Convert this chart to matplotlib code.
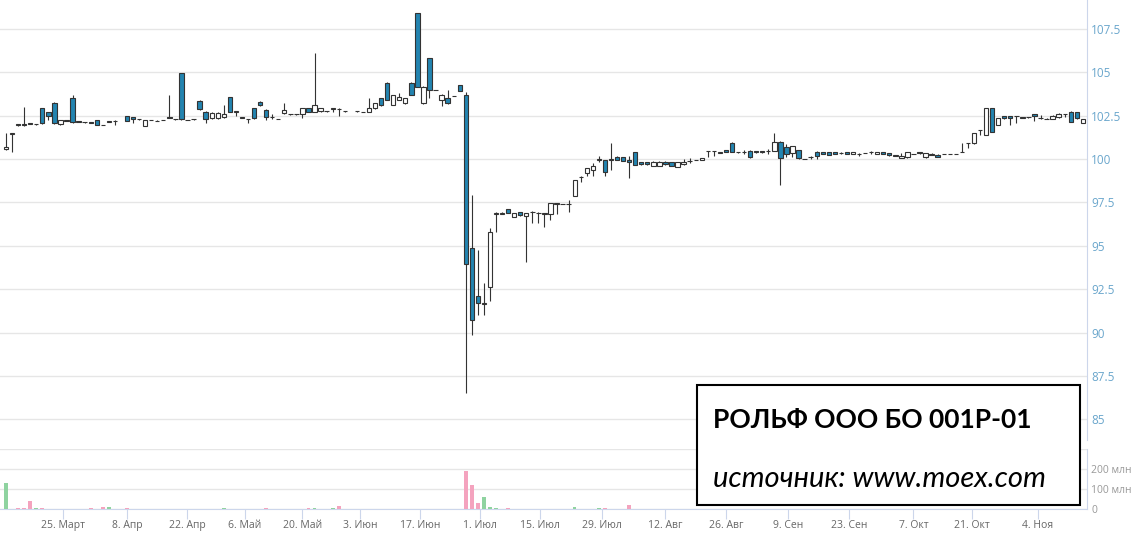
import matplotlib.pyplot as plt
from matplotlib.patches import Rectangle

# daily candles (open, high, low, close), mid March .. mid November 2019
opn = [100.55, 101.45, 102.00, 102.00, 102.08, 102.00, 102.92, 102.69, 103.24, 102.00,
       102.22, 103.50, 102.17, 102.14, 102.13, 102.25, 101.98, 102.13, 102.20, 102.48,
       102.42, 102.30, 101.90, 102.25, 102.20, 102.25, 102.42, 102.30, 104.94, 102.26,
       102.29, 103.36, 102.73, 102.34, 102.34, 102.40, 103.55, 102.72, 102.40, 102.30,
       102.92, 103.30, 102.82, 102.40, 102.30, 102.63, 102.58, 102.60, 102.59, 102.92,
       102.73, 102.75, 102.76, 102.90, 102.90, 102.76, 102.75, 102.71, 102.73, 102.92,
       103.50, 104.40, 103.11, 103.40, 103.21, 104.40, 108.40, 103.21, 105.80, 103.99,
       103.40, 103.50, 103.64, 104.26, 103.69, 94.86, 92.10, 91.66, 92.61, 96.85,
       96.85, 97.10, 96.68, 96.95, 96.70, 96.95, 96.90, 96.85, 96.83, 97.43,
       97.40, 97.40, 97.87, 98.97, 99.17, 99.35, 99.97, 99.94, 99.97, 100.13,
       100.10, 99.95, 100.38, 99.80, 99.80, 99.60, 99.60, 99.84, 99.80, 99.55,
       99.70, 99.89, 99.94, 99.96, 100.44, 100.44, 100.35, 100.50, 100.94, 100.39,
       100.40, 100.48, 100.45, 100.45, 100.45, 100.48, 101.00, 100.70, 100.36, 100.52,
       100.01, 100.10, 100.42, 100.40, 100.40, 100.38, 100.33, 100.38, 100.28, 100.30,
       100.35, 100.38, 100.28, 100.40, 100.35, 100.19, 100.05, 100.10, 100.30, 100.40,
       100.10, 100.30, 100.25, 100.30, 100.30, 100.30, 100.42, 100.90, 100.90, 101.67,
       101.38, 102.92, 101.96, 102.45, 102.45, 102.45, 102.40, 102.40, 102.60, 102.35,
       102.29, 102.30, 102.40, 102.60, 102.73, 102.70, 102.10]
high = [101.48, 101.52, 102.00, 103.00, 102.10, 102.03, 102.95, 102.72, 103.27, 102.27,
        102.24, 103.69, 102.18, 102.15, 102.14, 102.27, 101.98, 102.17, 102.22, 102.50,
        102.44, 102.31, 102.27, 102.26, 102.22, 102.26, 103.69, 102.31, 104.96, 102.27,
        102.31, 103.38, 102.75, 102.69, 102.69, 103.10, 103.59, 102.75, 102.42, 102.32,
        102.94, 103.32, 102.90, 102.60, 102.32, 103.20, 102.60, 102.62, 102.94, 102.94,
        106.09, 102.94, 102.77, 102.92, 102.92, 102.77, 102.77, 102.72, 103.50, 103.23,
        103.52, 104.42, 103.71, 103.80, 103.52, 104.42, 108.42, 104.19, 105.82, 104.00,
        103.75, 103.98, 103.65, 104.28, 103.88, 97.93, 94.76, 92.84, 96.00, 96.92,
        96.92, 97.12, 96.89, 96.97, 96.89, 96.98, 96.92, 96.87, 97.46, 97.46,
        97.42, 97.64, 98.81, 99.00, 99.48, 99.75, 100.20, 99.96, 100.90, 100.15,
        100.12, 100.20, 100.40, 99.82, 99.82, 99.86, 99.86, 99.86, 99.82, 99.82,
        100.00, 100.05, 99.96, 100.07, 100.46, 100.46, 100.41, 100.52, 100.96, 100.42,
        100.50, 100.50, 100.47, 100.47, 100.55, 101.48, 101.02, 100.85, 100.77, 100.54,
        100.02, 100.20, 100.44, 100.42, 100.42, 100.40, 100.40, 100.40, 100.42, 100.32,
        100.36, 100.45, 100.42, 100.42, 100.37, 100.25, 100.35, 100.42, 100.31, 100.42,
        100.37, 100.32, 100.27, 100.31, 100.31, 100.31, 100.90, 100.92, 101.50, 101.69,
        102.94, 102.94, 102.36, 102.47, 102.47, 102.47, 102.41, 102.41, 102.62, 102.55,
        102.35, 102.55, 102.65, 102.62, 102.75, 102.72, 102.30]
low = [100.50, 100.40, 101.90, 101.90, 102.00, 101.98, 102.02, 102.25, 102.00, 101.98,
       102.18, 102.10, 102.13, 102.10, 102.08, 101.94, 101.94, 102.12, 101.96, 102.18,
       102.10, 102.27, 101.88, 102.22, 102.18, 102.22, 102.35, 102.27, 102.27, 102.23,
       102.27, 102.80, 102.05, 102.32, 102.32, 102.38, 102.70, 102.50, 102.36, 102.05,
       102.30, 103.08, 102.25, 102.30, 102.28, 102.60, 102.55, 102.56, 102.34, 102.71,
       102.70, 102.72, 102.73, 102.70, 102.50, 102.73, 102.73, 102.68, 102.70, 102.90,
       103.08, 103.38, 103.09, 103.38, 103.19, 103.67, 104.15, 103.19, 103.50, 103.96,
       103.05, 103.19, 103.61, 103.91, 86.50, 89.86, 91.00, 91.00, 91.84, 95.81,
       96.83, 96.88, 96.66, 96.73, 94.09, 96.30, 96.30, 96.10, 96.50, 96.83,
       97.38, 96.96, 97.85, 98.69, 99.00, 99.00, 99.85, 99.00, 99.37, 99.92,
       99.88, 98.89, 99.63, 99.68, 99.68, 99.58, 99.58, 99.68, 99.58, 99.53,
       99.68, 99.75, 99.93, 99.94, 100.13, 100.20, 100.33, 100.38, 100.40, 100.35,
       100.30, 100.08, 100.36, 100.36, 100.30, 100.46, 98.50, 100.10, 100.10, 100.02,
       99.98, 100.00, 100.00, 100.28, 100.23, 100.26, 100.26, 100.28, 100.26, 100.20,
       100.33, 100.30, 100.26, 100.26, 100.18, 100.18, 100.03, 100.08, 100.28, 100.31,
       100.08, 100.23, 100.10, 100.28, 100.28, 100.28, 100.40, 100.61, 100.88, 101.38,
       101.36, 101.55, 101.94, 102.33, 101.96, 102.10, 102.38, 102.38, 102.20, 102.33,
       102.28, 102.28, 102.38, 102.40, 102.13, 102.33, 102.08]
close = [100.68, 101.50, 101.93, 101.95, 102.03, 102.02, 102.05, 102.48, 102.05, 102.25,
         102.20, 102.15, 102.15, 102.12, 102.10, 101.96, 101.95, 102.16, 102.21, 102.20,
         102.30, 102.29, 102.25, 102.24, 102.21, 102.24, 102.38, 102.29, 102.29, 102.25,
         102.30, 102.86, 102.29, 102.67, 102.67, 102.60, 102.73, 102.74, 102.38, 102.31,
         102.34, 103.10, 102.40, 102.42, 102.31, 102.82, 102.57, 102.58, 102.92, 102.73,
         103.11, 102.92, 102.75, 102.91, 102.89, 102.74, 102.76, 102.70, 102.92, 103.21,
         103.10, 103.40, 103.69, 103.60, 103.50, 103.69, 104.17, 104.17, 103.98, 103.98,
         103.70, 103.21, 103.62, 103.93, 93.95, 90.73, 91.69, 91.72, 95.81, 96.90,
         96.90, 96.90, 96.87, 96.75, 96.87, 96.96, 96.91, 96.86, 97.44, 97.44,
         97.41, 97.41, 98.79, 98.98, 99.46, 99.60, 99.98, 99.27, 99.98, 99.94,
         99.90, 99.85, 99.65, 99.70, 99.70, 99.84, 99.84, 99.70, 99.60, 99.80,
         99.85, 99.90, 99.95, 100.05, 100.45, 100.45, 100.40, 100.40, 100.42, 100.40,
         100.41, 100.10, 100.38, 100.38, 100.46, 101.00, 100.04, 100.30, 100.75, 100.04,
         100.00, 100.11, 100.17, 100.30, 100.25, 100.28, 100.34, 100.30, 100.40, 100.31,
         100.34, 100.39, 100.40, 100.28, 100.22, 100.21, 100.20, 100.40, 100.29, 100.33,
         100.35, 100.25, 100.12, 100.29, 100.31, 100.29, 100.43, 100.91, 101.48, 101.68,
         102.92, 101.57, 102.34, 102.35, 102.35, 102.46, 102.39, 102.41, 102.45, 102.36,
         102.31, 102.45, 102.60, 102.61, 102.15, 102.35, 102.28]

# day slot of each candle; slots 19 and 57 have no trades
day = list(range(0, 19)) + list(range(20, 57)) + list(range(58, 179))

# volume bars (day slot, million rub)
vol_day = [0, 2, 3, 4, 5, 6, 14, 16, 17, 20, 36, 43, 46, 50, 51, 54, 55,
           76, 77, 78, 79, 80, 81, 83, 94, 98, 99, 103]
vol_mln = [130, 3, 3, 40, 3, 3, 5, 12, 12, 4, 5, 3, 2, 3, 3, 3, 15,
           192, 122, 30, 60, 12, 3, 3, 10, 3, 3, 22]

# x axis labels and the day slot they sit on
tick_days = [9.5, 20, 30, 39.5, 49, 58.5, 68.5, 78.3, 88.3, 98.5, 109, 119, 129.3,
             139.3, 150, 159.7, 170.5]
tick_labels = ["25. Март", "8. Апр", "22. Апр", "6. Май", "20. Май", "3. Июн",
               "17. Июн", "1. Июл", "15. Июл", "29. Июл", "12. Авг", "26. Авг",
               "9. Сен", "23. Сен", "7. Окт", "21. Окт", "4. Ноя"]

price_ticks = [85, 87.5, 90, 92.5, 95, 97.5, 100, 102.5, 105, 107.5]
price_labels = ["85", "87.5", "90", "92.5", "95", "97.5", "100", "102.5", "105", "107.5"]
vol_ticks = [0, 100, 200, 300]
vol_labels = ["0", "100 млн", "200 млн", ""]

BLUE = "#2384b0"
EDGE = "#333333"
GRID = "#e6e6e6"
AXIS = "#ccd6eb"


def main():
    plt.rcParams['font.family'] = ['Open Sans', 'DejaVu Sans']

    fig = plt.figure(figsize=(11.4, 5.35), dpi=100)
    ax = fig.add_axes([0.0, 0.1776, 0.9535, 0.8224])
    axv = fig.add_axes([0.0, 0.0486, 0.9535, 0.1121], sharex=ax)

    # candles: wick first, then body
    ax.vlines(day, low, high, color=EDGE, lw=0.8, zorder=2)
    bottoms = [min(o, c) for o, c in zip(opn, close)]
    heights = [max(abs(c - o), 0.005) for o, c in zip(opn, close)]
    fills = [BLUE if c < o else "white" for o, c in zip(opn, close)]
    ax.bar(day, heights, bottom=bottoms, width=0.72, color=fills,
           edgecolor=EDGE, linewidth=0.8, zorder=3)

    ax.set_xlim(-0.99, 178.68)
    ax.set_ylim(83.81, 109.16)
    ax.set_yticks(price_ticks)
    ax.set_yticklabels(price_labels)
    ax.yaxis.tick_right()
    ax.tick_params(axis='y', length=0, pad=3, labelsize=8.5, labelcolor="#6aa6cc")
    ax.tick_params(axis='x', length=0, labelbottom=False)
    ax.grid(axis='y', color=GRID, lw=1)
    ax.set_axisbelow(True)
    for s in ["top", "left", "bottom"]:
        ax.spines[s].set_visible(False)
    ax.spines["right"].set_color(AXIS)

    # volume pane, bar colour follows the candle of that day
    up = {d: c >= o for d, o, c in zip(day, opn, close)}
    vcol = ["#8fd3a0" if up[d] else "#f4a3be" for d in vol_day]
    axv.bar(vol_day, vol_mln, width=0.6, color=vcol, zorder=3)
    axv.set_ylim(0, 300)
    axv.set_yticks(vol_ticks)
    axv.set_yticklabels(vol_labels)
    axv.yaxis.tick_right()
    axv.tick_params(axis='y', length=0, pad=3, labelsize=7.5, labelcolor="#999999")
    axv.grid(axis='y', color=GRID, lw=1)
    axv.set_axisbelow(True)
    axv.set_xticks(tick_days)
    axv.set_xticklabels(tick_labels)
    axv.tick_params(axis='x', length=7, color=AXIS, labelsize=7.5,
                    labelcolor="#666666", pad=1)
    for s in ["top", "left"]:
        axv.spines[s].set_visible(False)
    axv.spines["right"].set_color(AXIS)
    axv.spines["bottom"].set_color(AXIS)

    # caption box
    fig.add_artist(Rectangle((0.6114, 0.0561), 0.336, 0.2243, transform=fig.transFigure,
                             facecolor="white", edgecolor="black", lw=1.5, zorder=10))
    fig.text(0.6254, 0.2, "РОЛЬФ ООО БО 001Р-01", family=['Lato', 'DejaVu Sans'],
             weight='bold', fontsize=19, va='baseline', zorder=11)
    fig.text(0.6254, 0.0897, "источник: www.moex.com", family=['Lato', 'DejaVu Sans'],
             style='italic', fontsize=21, va='baseline', zorder=11)

    fig.savefig("out.png", dpi=100)


if __name__ == "__main__":
    main()
